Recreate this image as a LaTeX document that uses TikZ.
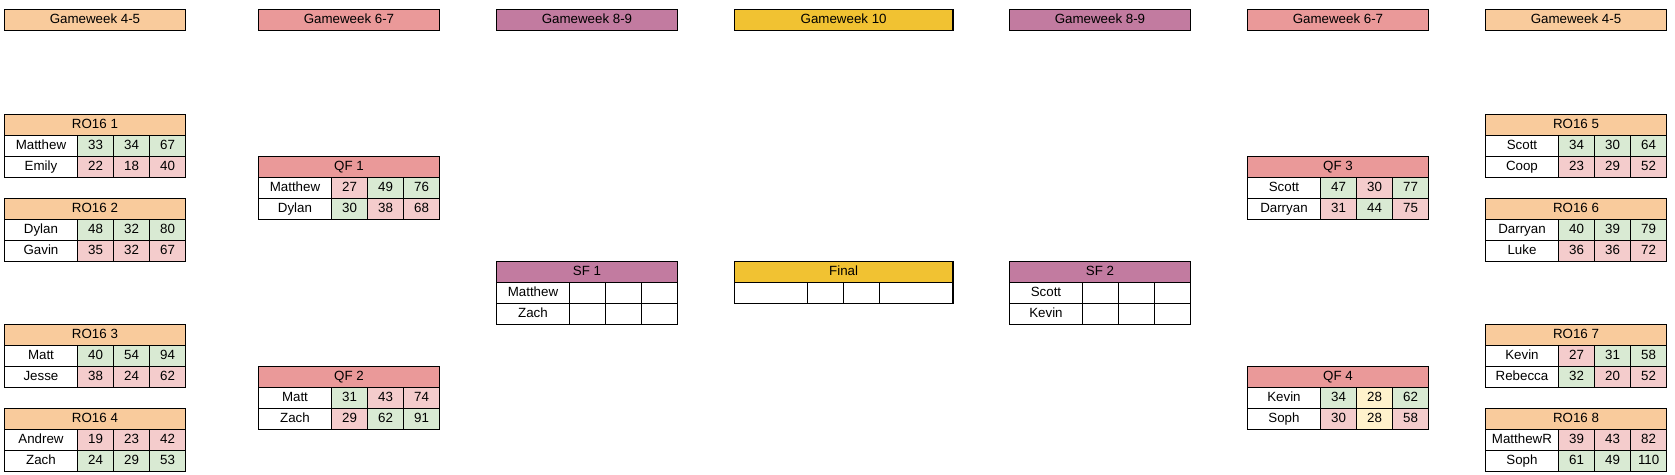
\documentclass[tikz,border=0pt]{standalone}
\usepackage{fontspec}
\setmainfont{Liberation Sans}
\usepackage{tikz}
\usetikzlibrary{positioning}

\definecolor{roundA}{HTML}{F9CB9C}
\definecolor{roundB}{HTML}{EA9999}
\definecolor{roundC}{HTML}{C27BA0}
\definecolor{roundD}{HTML}{F1C232}
\definecolor{wonbg}{HTML}{D9EAD3}
\definecolor{lostbg}{HTML}{F4CCCC}
\definecolor{tiedbg}{HTML}{FFF2CC}

\tikzset{
	cell/.style={draw=black,line width=0.8pt,inner sep=0pt,outer sep=0pt,
		minimum height=15.75pt,text height=7.3pt,text depth=2pt,
		font=\fontsize{10}{12}\selectfont},
	head/.style={cell,anchor=north west,minimum width=136pt},
	namecell/.style={cell,fill=white,minimum width=55pt},
	wincell/.style={cell,fill=wonbg,minimum width=27pt},
	losecell/.style={cell,fill=lostbg,minimum width=27pt},
	tiecell/.style={cell,fill=tiedbg,minimum width=27pt},
	blankcell/.style={cell,fill=white,minimum width=27pt}
}

\newcommand{\playerrow}[9]{
	\node[namecell,anchor=north west] (#2) at (#1.south west) {#3};
	\node[#5,right=0pt of #2]  (#2x) {#4};
	\node[#7,right=0pt of #2x] (#2y) {#6};
	\node[#9,right=0pt of #2y] (#2z) {#8};
}

\begin{document}
\begin{tikzpicture}[x=0.75pt,y=-0.75pt]
	\useasboundingbox (0,0) rectangle (1675,475);

	\foreach \x/\c/\t in {4.3/roundA/Gameweek 4-5, 258.3/roundB/Gameweek 6-7, 496.3/roundC/Gameweek 8-9,
		1009.3/roundC/Gameweek 8-9, 1247.3/roundB/Gameweek 6-7, 1485.3/roundA/Gameweek 4-5}
		\node[head,fill=\c] (gw\x) at (\x,9.3) {\t};
	\node[head,fill=roundD,minimum width=164pt] (gw10) at (734.3,9.3) {Gameweek 10};

	\node[head,fill=roundA] (ro1) at (4.3,114.3) {RO16 1};
	\playerrow{ro1}{ro1a}{Matthew}{33}{wincell}{34}{wincell}{67}{wincell}
	\playerrow{ro1a}{ro1b}{Emily}{22}{losecell}{18}{losecell}{40}{losecell}

	\node[head,fill=roundA] (ro2) at (4.3,198.3) {RO16 2};
	\playerrow{ro2}{ro2a}{Dylan}{48}{wincell}{32}{wincell}{80}{wincell}
	\playerrow{ro2a}{ro2b}{Gavin}{35}{losecell}{32}{losecell}{67}{losecell}

	\node[head,fill=roundA] (ro3) at (4.3,324.3) {RO16 3};
	\playerrow{ro3}{ro3a}{Matt}{40}{wincell}{54}{wincell}{94}{wincell}
	\playerrow{ro3a}{ro3b}{Jesse}{38}{losecell}{24}{losecell}{62}{losecell}

	\node[head,fill=roundA] (ro4) at (4.3,408.3) {RO16 4};
	\playerrow{ro4}{ro4a}{Andrew}{19}{losecell}{23}{losecell}{42}{losecell}
	\playerrow{ro4a}{ro4b}{Zach}{24}{wincell}{29}{wincell}{53}{wincell}

	\node[head,fill=roundB] (qf1) at (258.3,156.3) {QF 1};
	\playerrow{qf1}{qf1a}{Matthew}{27}{losecell}{49}{wincell}{76}{wincell}
	\playerrow{qf1a}{qf1b}{Dylan}{30}{wincell}{38}{losecell}{68}{losecell}

	\node[head,fill=roundB] (qf2) at (258.3,366.3) {QF 2};
	\playerrow{qf2}{qf2a}{Matt}{31}{wincell}{43}{losecell}{74}{losecell}
	\playerrow{qf2a}{qf2b}{Zach}{29}{losecell}{62}{wincell}{91}{wincell}

	\node[head,fill=roundC] (sf1) at (496.3,261.3) {SF 1};
	\playerrow{sf1}{sf1a}{Matthew}{}{blankcell}{}{blankcell}{}{blankcell}
	\playerrow{sf1a}{sf1b}{Zach}{}{blankcell}{}{blankcell}{}{blankcell}

	\node[head,fill=roundD,minimum width=164pt] (fin) at (734.3,261.3) {Final};
	\node[namecell,anchor=north west] (fina) at (fin.south west) {};
	\node[blankcell,right=0pt of fina] (finb) {};
	\node[blankcell,right=0pt of finb] (finc) {};
	\node[namecell,right=0pt of finc]  (find) {};

	\node[head,fill=roundC] (sf2) at (1009.3,261.3) {SF 2};
	\playerrow{sf2}{sf2a}{Scott}{}{blankcell}{}{blankcell}{}{blankcell}
	\playerrow{sf2a}{sf2b}{Kevin}{}{blankcell}{}{blankcell}{}{blankcell}

	\node[head,fill=roundB] (qf3) at (1247.3,156.3) {QF 3};
	\playerrow{qf3}{qf3a}{Scott}{47}{wincell}{30}{losecell}{77}{wincell}
	\playerrow{qf3a}{qf3b}{Darryan}{31}{losecell}{44}{wincell}{75}{losecell}

	\node[head,fill=roundB] (qf4) at (1247.3,366.3) {QF 4};
	\playerrow{qf4}{qf4a}{Kevin}{34}{wincell}{28}{tiecell}{62}{wincell}
	\playerrow{qf4a}{qf4b}{Soph}{30}{losecell}{28}{tiecell}{58}{losecell}

	\node[head,fill=roundA] (ro5) at (1485.3,114.3) {RO16 5};
	\playerrow{ro5}{ro5a}{Scott}{34}{wincell}{30}{wincell}{64}{wincell}
	\playerrow{ro5a}{ro5b}{Coop}{23}{losecell}{29}{losecell}{52}{losecell}

	\node[head,fill=roundA] (ro6) at (1485.3,198.3) {RO16 6};
	\playerrow{ro6}{ro6a}{Darryan}{40}{wincell}{39}{wincell}{79}{wincell}
	\playerrow{ro6a}{ro6b}{Luke}{36}{losecell}{36}{losecell}{72}{losecell}

	\node[head,fill=roundA] (ro7) at (1485.3,324.3) {RO16 7};
	\playerrow{ro7}{ro7a}{Kevin}{27}{losecell}{31}{wincell}{58}{wincell}
	\playerrow{ro7a}{ro7b}{Rebecca}{32}{wincell}{20}{losecell}{52}{losecell}

	\node[head,fill=roundA] (ro8) at (1485.3,408.3) {RO16 8};
	\playerrow{ro8}{ro8a}{MatthewR}{39}{losecell}{43}{losecell}{82}{losecell}
	\playerrow{ro8a}{ro8b}{Soph}{61}{wincell}{49}{wincell}{110}{wincell}
\end{tikzpicture}
\end{document}
